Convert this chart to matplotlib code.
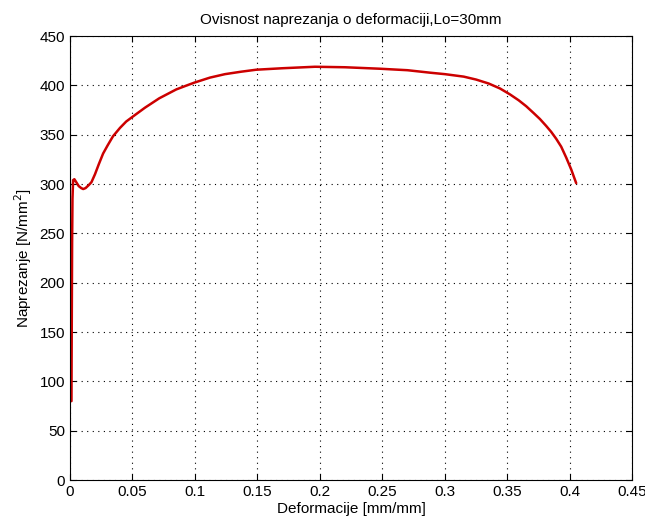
import matplotlib
matplotlib.use('Agg')
import matplotlib.pyplot as plt

# Tensile test, Lo = 30 mm: engineering strain vs. stress
strain = [0.0012, 0.0013, 0.0015, 0.0017, 0.0020, 0.0025, 0.0035, 0.0050,
          0.0070, 0.0090, 0.0106, 0.0125, 0.0150, 0.0172, 0.0200, 0.0230,
          0.0265, 0.0300, 0.0344, 0.0400, 0.0450, 0.0503, 0.0600, 0.0714,
          0.0850, 0.0933, 0.0997, 0.1120, 0.1240, 0.1370, 0.1490, 0.1700,
          0.1960, 0.2200, 0.2480, 0.2700, 0.2880, 0.3000, 0.3150, 0.3250,
          0.3350, 0.3440, 0.3520, 0.3590, 0.3650, 0.3710, 0.3760, 0.3810,
          0.3850, 0.3890, 0.3930, 0.3970, 0.4010, 0.4050]
stress = [80, 120, 180, 240, 285, 304, 305, 302,
          298, 296, 295, 296, 299, 302, 310, 320,
          331, 339, 348.5, 357, 363.5, 368.5, 377.5, 387,
          396, 400, 403, 408, 411.5, 414, 416, 417.5,
          419, 418.5, 417, 415.5, 413, 411.5, 409, 406,
          402, 397, 391, 385, 379, 372, 366, 359,
          353, 346, 338, 327, 315, 301]

xticks = [0, 0.05, 0.1, 0.15, 0.2, 0.25, 0.3, 0.35, 0.4, 0.45]
xticklabels = ['0', '0.05', '0.1', '0.15', '0.2', '0.25', '0.3', '0.35', '0.4', '0.45']
yticks = list(range(0, 451, 50))

plt.rcParams['font.family'] = ['Liberation Sans', 'DejaVu Sans']

fig = plt.figure(figsize=(6.45, 5.29), dpi=100)
fig.patch.set_facecolor('white')
ax = fig.add_axes([0.1085, 0.0926, 0.872, 0.839])

ax.plot(strain, stress, color='#cc0000', linewidth=1.8, solid_capstyle='round',
        solid_joinstyle='round')

ax.set_xlim(0, 0.45)
ax.set_ylim(0, 450)
ax.set_xticks(xticks)
ax.set_xticklabels(xticklabels)
ax.set_yticks(yticks)
ax.tick_params(direction='in', length=4, width=0.8, labelsize=11,
               top=True, right=True, colors='black')
ax.grid(True, color='black', linestyle=(0, (1, 4)), linewidth=0.8)
for sp in ax.spines.values():
    sp.set_linewidth(0.8)

ax.set_xlabel('Deformacije [mm/mm]', fontsize=11, labelpad=2)
ax.set_ylabel('Naprezanje [N/mm$^2$]', fontsize=11, labelpad=4)
ax.set_title('Ovisnost naprezanja o deformaciji,Lo=30mm', fontsize=11, pad=9)

fig.savefig('out.png', dpi=100)
